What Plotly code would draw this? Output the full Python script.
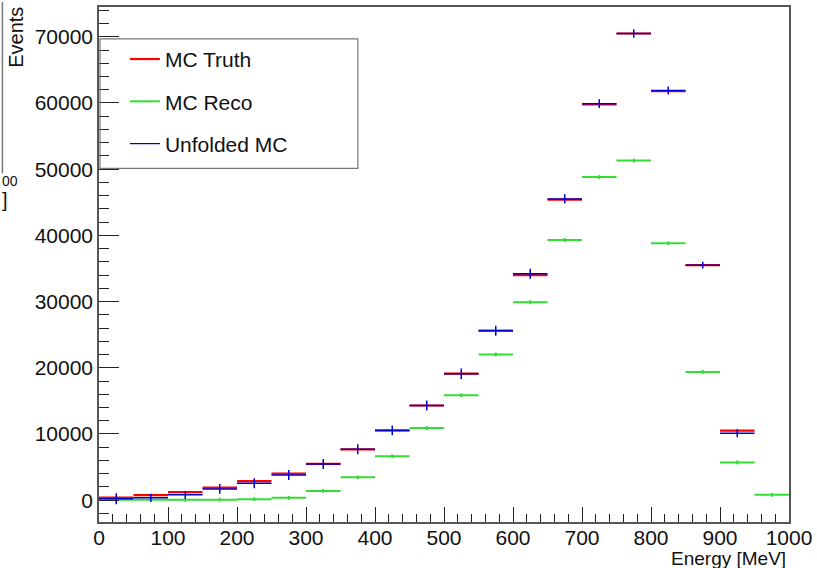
import plotly.graph_objects as go

# ---------------- data ----------------
bin_centers = [25, 75, 125, 175, 225, 275, 325, 375, 425, 475,
               525, 575, 625, 675, 725, 775, 825, 875, 925, 975]
bin_half_width = [25] * 20

mc_truth = [400, 750, 1200, 1900, 2860, 4000, 5470, 7680, 10540, 14300,
            19100, 25600, 34000, 45400, 59800, 70500, 61800, 35500, 10500, None]
mc_reco = [50, 50, 50, 80, 150, 350, 1400, 3460, 6620, 10900,
           15850, 22000, 29900, 39300, 48800, 51300, 38800, 19370, 5700, 800]
unfolded = [200, 350, 800, 1700, 2560, 3800, 5470, 7680, 10540, 14300,
            19100, 25600, 34200, 45500, 59900, 70500, 61900, 35500, 10100, None]

reco_err = [300, 300, 300, 300, 300, 300, 300, 300, 300, 300,
            300, 300, 300, 300, 300, 300, 300, 300, 300, 300]
unfolded_err = [830, 600, 600, 750, 750, 750, 750, 750, 750, 750,
                800, 750, 750, 700, 650, 650, 600, 500, 600, None]

x_ticks = [0, 100, 200, 300, 400, 500, 600, 700, 800, 900, 1000]
y_ticks = [0, 10000, 20000, 30000, 40000, 50000, 60000, 70000]

RED = "#ff0000"
GREEN = "#33dd33"
BLUE = "#0000cc"
FONT = "Liberation Sans, Arial, Helvetica, sans-serif"

# plot-area geometry in pixels (for decorations only)
L, R, T, B = 99, 792, 5, 522
W, H = 817, 568
def px(p):
    return (p - L) / (R - L)
def py(q):
    return (B - q) / (B - T)

fig = go.Figure()

def hist_trace(y, color, width, yerr=None):
    return go.Scatter(
        x=bin_centers, y=y, mode="markers",
        marker=dict(size=0, color=color, opacity=0),
        error_x=dict(type="data", array=bin_half_width, color=color,
                     thickness=width, width=0),
        error_y=dict(type="data", array=yerr if yerr else [0] * 20,
                     color=color, thickness=width, width=0,
                     visible=yerr is not None),
        showlegend=False, hoverinfo="skip",
    )

fig.add_trace(hist_trace(mc_truth, RED, 2.2))
fig.add_trace(hist_trace(mc_reco, GREEN, 2.0, reco_err))
fig.add_trace(hist_trace(unfolded, BLUE, 1.5, unfolded_err))

# legend entries
for name, color, w, grp in [("MC Truth", RED, 2.2, "a"),
                            ("MC Reco", GREEN, 2.0, "b"),
                            ("Unfolded MC", BLUE, 1.2, "c")]:
    fig.add_trace(go.Scatter(x=[None], y=[None], mode="lines",
                             line=dict(color=color, width=w),
                             name=name, legendgroup=grp, showlegend=True))

axis_common = dict(
    showgrid=False, zeroline=False, showline=True, mirror=True,
    linecolor="#555555", linewidth=1.5, ticks="inside", tickcolor="#222222",
    tickwidth=1, tickfont=dict(family=FONT, size=21, color="#111111"),
    tickformat="d",
)

fig.update_xaxes(range=[0, 1000], tickvals=x_ticks, ticklen=15,
                 ticklabelstandoff=-4,
                 minor=dict(dtick=20, ticklen=8, ticks="inside",
                            tickcolor="#222222", tickwidth=1),
                 **axis_common)
fig.update_yaxes(range=[-3300, 74500], tickvals=y_ticks, ticklen=20,
                 minor=dict(dtick=2000, ticklen=10, ticks="inside",
                            tickcolor="#222222", tickwidth=1),
                 **axis_common)

shapes = [
    # legend box
    dict(type="rect", xref="paper", yref="paper",
         x0=px(100), x1=px(359), y0=py(167), y1=py(37),
         line=dict(color="#777777", width=1.2), fillcolor="rgba(0,0,0,0)",
         layer="above"),
    # edge of neighbouring pad frame at far left
    dict(type="line", xref="paper", yref="paper",
         x0=px(2), x1=px(2), y0=py(172), y1=py(0),
         line=dict(color="#777777", width=1.5)),
]

annotations = [
    dict(text="Energy [MeV]", xref="paper", yref="paper", x=px(791), y=py(546),
         xanchor="right", yanchor="top", showarrow=False,
         font=dict(family=FONT, size=19, color="#111111")),
    dict(text="Events", xref="paper", yref="paper", x=px(28), y=py(3),
         xanchor="right", yanchor="top", textangle=-90, showarrow=False,
         font=dict(family=FONT, size=20, color="#111111")),
    dict(text="00", xref="paper", yref="paper", x=px(0), y=py(170),
         xanchor="left", yanchor="top", showarrow=False,
         font=dict(family=FONT, size=14, color="#111111")),
    dict(text="]", xref="paper", yref="paper", x=px(0), y=py(186),
         xanchor="left", yanchor="top", showarrow=False,
         font=dict(family=FONT, size=20, color="#111111")),
]

fig.update_layout(
    width=W, height=H,
    margin=dict(l=L, r=W - R, t=T, b=H - B),
    paper_bgcolor="white", plot_bgcolor="white",
    font=dict(family=FONT, size=20, color="#111111"),
    showlegend=True,
    legend=dict(x=px(125), y=py(37), xanchor="left", yanchor="top",
                bgcolor="rgba(0,0,0,0)", borderwidth=0,
                traceorder="grouped", tracegroupgap=12,
                font=dict(family=FONT, size=21, color="#111111")),
    shapes=shapes, annotations=annotations,
)

fig.write_html("out.html")
